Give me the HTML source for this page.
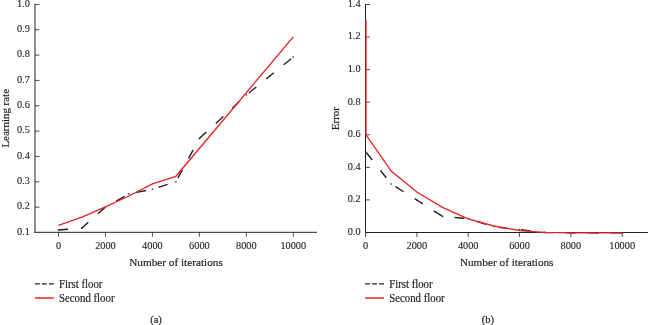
<!DOCTYPE html>
<html><head><meta charset="utf-8"><style>
html,body{margin:0;padding:0;background:#fff;}
svg{display:block;}
text{font-family:"Liberation Serif","Times New Roman",serif;fill:#231f20;stroke:#231f20;stroke-width:0.2px;}
.tk{stroke-width:0.12px;}
</style></head><body>
<svg width="649" height="325" viewBox="0 0 649 325">
<rect width="649" height="325" fill="#fff"/>
<line x1="35.00" y1="3.90" x2="35.00" y2="232.80" stroke="#231f20" stroke-width="1.0" />
<line x1="34.50" y1="232.30" x2="317.00" y2="232.30" stroke="#231f20" stroke-width="1.0" />
<text x="29.80" y="235.00" font-size="10.3" text-anchor="end"  class="tk">0.1</text>
<line x1="35.00" y1="207.16" x2="39.50" y2="207.16" stroke="#231f20" stroke-width="0.8" />
<text x="29.80" y="209.00" font-size="10.3" text-anchor="end"  class="tk">0.2</text>
<line x1="35.00" y1="181.81" x2="39.50" y2="181.81" stroke="#231f20" stroke-width="0.8" />
<text x="29.80" y="184.00" font-size="10.3" text-anchor="end"  class="tk">0.3</text>
<line x1="35.00" y1="156.47" x2="39.50" y2="156.47" stroke="#231f20" stroke-width="0.8" />
<text x="29.80" y="159.00" font-size="10.3" text-anchor="end"  class="tk">0.4</text>
<line x1="35.00" y1="131.12" x2="39.50" y2="131.12" stroke="#231f20" stroke-width="0.8" />
<text x="29.80" y="133.00" font-size="10.3" text-anchor="end"  class="tk">0.5</text>
<line x1="35.00" y1="105.78" x2="39.50" y2="105.78" stroke="#231f20" stroke-width="0.8" />
<text x="29.80" y="108.00" font-size="10.3" text-anchor="end"  class="tk">0.6</text>
<line x1="35.00" y1="80.43" x2="39.50" y2="80.43" stroke="#231f20" stroke-width="0.8" />
<text x="29.80" y="83.00" font-size="10.3" text-anchor="end"  class="tk">0.7</text>
<line x1="35.00" y1="55.09" x2="39.50" y2="55.09" stroke="#231f20" stroke-width="0.8" />
<text x="29.80" y="57.00" font-size="10.3" text-anchor="end"  class="tk">0.8</text>
<line x1="35.00" y1="29.74" x2="39.50" y2="29.74" stroke="#231f20" stroke-width="0.8" />
<text x="29.80" y="32.00" font-size="10.3" text-anchor="end"  class="tk">0.9</text>
<line x1="35.00" y1="4.40" x2="39.50" y2="4.40" stroke="#231f20" stroke-width="0.8" />
<text x="29.80" y="7.00" font-size="10.3" text-anchor="end"  class="tk">1.0</text>
<line x1="58.50" y1="232.30" x2="58.50" y2="236.80" stroke="#231f20" stroke-width="0.8" />
<text x="58.50" y="249.00" font-size="10.3" text-anchor="middle"  class="tk">0</text>
<line x1="105.46" y1="232.30" x2="105.46" y2="236.80" stroke="#231f20" stroke-width="0.8" />
<text x="105.46" y="249.00" font-size="10.3" text-anchor="middle"  class="tk">2000</text>
<line x1="152.42" y1="232.30" x2="152.42" y2="236.80" stroke="#231f20" stroke-width="0.8" />
<text x="152.42" y="249.00" font-size="10.3" text-anchor="middle"  class="tk">4000</text>
<line x1="199.38" y1="232.30" x2="199.38" y2="236.80" stroke="#231f20" stroke-width="0.8" />
<text x="199.38" y="249.00" font-size="10.3" text-anchor="middle"  class="tk">6000</text>
<line x1="246.34" y1="232.30" x2="246.34" y2="236.80" stroke="#231f20" stroke-width="0.8" />
<text x="246.34" y="249.00" font-size="10.3" text-anchor="middle"  class="tk">8000</text>
<line x1="293.30" y1="232.30" x2="293.30" y2="236.80" stroke="#231f20" stroke-width="0.8" />
<text x="293.30" y="249.00" font-size="10.3" text-anchor="middle"  class="tk">10000</text>
<text x="176.00" y="265.50" font-size="11.4" text-anchor="middle"  textLength="93.6" lengthAdjust="spacingAndGlyphs">Number of iterations</text>
<text x="0.00" y="0.00" font-size="11" text-anchor="middle" transform="translate(8.5,118.3) rotate(-90)" textLength="58.6" lengthAdjust="spacingAndGlyphs">Learning rate</text>
<line x1="365.50" y1="4.00" x2="365.50" y2="233.00" stroke="#231f20" stroke-width="1.0" />
<line x1="365.00" y1="232.50" x2="647.90" y2="232.50" stroke="#231f20" stroke-width="1.0" />
<text x="360.60" y="235.00" font-size="10.3" text-anchor="end"  class="tk">0.0</text>
<line x1="365.50" y1="199.93" x2="370.00" y2="199.93" stroke="#231f20" stroke-width="0.8" />
<text x="360.60" y="202.00" font-size="10.3" text-anchor="end"  class="tk">0.2</text>
<line x1="365.50" y1="167.36" x2="370.00" y2="167.36" stroke="#231f20" stroke-width="0.8" />
<text x="360.60" y="170.00" font-size="10.3" text-anchor="end"  class="tk">0.4</text>
<line x1="365.50" y1="134.79" x2="370.00" y2="134.79" stroke="#231f20" stroke-width="0.8" />
<text x="360.60" y="137.00" font-size="10.3" text-anchor="end"  class="tk">0.6</text>
<line x1="365.50" y1="102.21" x2="370.00" y2="102.21" stroke="#231f20" stroke-width="0.8" />
<text x="360.60" y="105.00" font-size="10.3" text-anchor="end"  class="tk">0.8</text>
<line x1="365.50" y1="69.64" x2="370.00" y2="69.64" stroke="#231f20" stroke-width="0.8" />
<text x="360.60" y="72.00" font-size="10.3" text-anchor="end"  class="tk">1.0</text>
<line x1="365.50" y1="37.07" x2="370.00" y2="37.07" stroke="#231f20" stroke-width="0.8" />
<text x="360.60" y="39.00" font-size="10.3" text-anchor="end"  class="tk">1.2</text>
<line x1="365.50" y1="4.50" x2="370.00" y2="4.50" stroke="#231f20" stroke-width="0.8" />
<text x="360.60" y="7.00" font-size="10.3" text-anchor="end"  class="tk">1.4</text>
<line x1="365.50" y1="232.50" x2="365.50" y2="237.00" stroke="#231f20" stroke-width="0.8" />
<text x="365.50" y="249.00" font-size="10.3" text-anchor="middle"  class="tk">0</text>
<line x1="416.84" y1="232.50" x2="416.84" y2="237.00" stroke="#231f20" stroke-width="0.8" />
<text x="416.84" y="249.00" font-size="10.3" text-anchor="middle"  class="tk">2000</text>
<line x1="468.18" y1="232.50" x2="468.18" y2="237.00" stroke="#231f20" stroke-width="0.8" />
<text x="468.18" y="249.00" font-size="10.3" text-anchor="middle"  class="tk">4000</text>
<line x1="519.52" y1="232.50" x2="519.52" y2="237.00" stroke="#231f20" stroke-width="0.8" />
<text x="519.52" y="249.00" font-size="10.3" text-anchor="middle"  class="tk">6000</text>
<line x1="570.86" y1="232.50" x2="570.86" y2="237.00" stroke="#231f20" stroke-width="0.8" />
<text x="570.86" y="249.00" font-size="10.3" text-anchor="middle"  class="tk">8000</text>
<line x1="622.20" y1="232.50" x2="622.20" y2="237.00" stroke="#231f20" stroke-width="0.8" />
<text x="622.20" y="249.00" font-size="10.3" text-anchor="middle"  class="tk">10000</text>
<text x="506.70" y="265.50" font-size="11.4" text-anchor="middle"  textLength="93.6" lengthAdjust="spacingAndGlyphs">Number of iterations</text>
<text x="0.00" y="0.00" font-size="11" text-anchor="middle" transform="translate(339.3,118.6) rotate(-90)" textLength="23.2" lengthAdjust="spacingAndGlyphs">Error</text>
<polyline points="58.50,230.00 81.98,228.00 105.46,207.00 128.94,193.90 152.42,189.30 175.90,181.70 199.38,138.50 222.86,117.00 246.34,95.00 269.82,76.00 293.30,57.00" fill="none" stroke="#231f20" stroke-width="1.4" stroke-linejoin="miter" stroke-dasharray="9.6 12.85"/>
<circle cx="58.50" cy="230.00" r="0.8" fill="#231f20"/>
<circle cx="81.98" cy="228.00" r="0.8" fill="#231f20"/>
<circle cx="105.46" cy="207.00" r="0.8" fill="#231f20"/>
<circle cx="128.94" cy="193.90" r="0.8" fill="#231f20"/>
<circle cx="152.42" cy="189.30" r="0.8" fill="#231f20"/>
<circle cx="175.90" cy="181.70" r="0.8" fill="#231f20"/>
<circle cx="199.38" cy="138.50" r="0.8" fill="#231f20"/>
<circle cx="222.86" cy="117.00" r="0.8" fill="#231f20"/>
<circle cx="246.34" cy="95.00" r="0.8" fill="#231f20"/>
<circle cx="269.82" cy="76.00" r="0.8" fill="#231f20"/>
<circle cx="293.30" cy="57.00" r="0.8" fill="#231f20"/>
<polyline points="58.50,225.30 81.98,217.10 105.46,206.90 128.94,196.00 152.42,183.80 175.90,176.30 293.30,36.90" fill="none" stroke="#e52421" stroke-width="1.35" stroke-linejoin="miter" />
<polyline points="365.50,151.50 391.17,184.00 416.84,200.00 442.51,216.40 468.18,218.60 493.85,226.80 519.52,229.60 545.19,232.50 570.86,232.80 596.53,232.90 622.20,232.90" fill="none" stroke="#231f20" stroke-width="1.4" stroke-linejoin="miter" stroke-dasharray="9.6 13.0" stroke-dashoffset="-1.3"/>
<circle cx="365.50" cy="151.50" r="0.8" fill="#231f20"/>
<circle cx="391.17" cy="184.00" r="0.8" fill="#231f20"/>
<circle cx="416.84" cy="200.00" r="0.8" fill="#231f20"/>
<circle cx="442.51" cy="216.40" r="0.8" fill="#231f20"/>
<circle cx="468.18" cy="218.60" r="0.8" fill="#231f20"/>
<circle cx="493.85" cy="226.80" r="0.8" fill="#231f20"/>
<circle cx="519.52" cy="229.60" r="0.8" fill="#231f20"/>
<circle cx="545.19" cy="232.50" r="0.8" fill="#231f20"/>
<circle cx="570.86" cy="232.80" r="0.8" fill="#231f20"/>
<circle cx="596.53" cy="232.90" r="0.8" fill="#231f20"/>
<circle cx="622.20" cy="232.90" r="0.8" fill="#231f20"/>
<polyline points="366.00,19.70 366.00,134.79 391.17,171.10 416.84,192.00 442.51,207.30 468.18,218.90 493.85,226.00 519.52,230.60 545.19,232.40 570.86,232.80 596.53,232.90 622.20,232.90" fill="none" stroke="#e52421" stroke-width="1.35" stroke-linejoin="miter" />
<line x1="34.90" y1="283.90" x2="53.70" y2="283.90" stroke="#231f20" stroke-width="1.3" stroke-dasharray="4.8 2.2"/>
<line x1="34.90" y1="298.00" x2="53.80" y2="298.00" stroke="#e52421" stroke-width="1.5" />
<text x="59.00" y="287.60" font-size="11.6" text-anchor="start"  textLength="43.4" lengthAdjust="spacingAndGlyphs">First floor</text>
<text x="59.00" y="301.60" font-size="11.6" text-anchor="start"  textLength="55.5" lengthAdjust="spacingAndGlyphs">Second floor</text>
<line x1="365.10" y1="283.90" x2="383.90" y2="283.90" stroke="#231f20" stroke-width="1.3" stroke-dasharray="4.8 2.2"/>
<line x1="365.10" y1="298.00" x2="384.00" y2="298.00" stroke="#e52421" stroke-width="1.5" />
<text x="389.20" y="287.60" font-size="11.6" text-anchor="start"  textLength="43.4" lengthAdjust="spacingAndGlyphs">First floor</text>
<text x="389.20" y="301.60" font-size="11.6" text-anchor="start"  textLength="55.5" lengthAdjust="spacingAndGlyphs">Second floor</text>
<text x="156.00" y="322.60" font-size="10.5" text-anchor="middle" >(a)</text>
<text x="487.90" y="322.60" font-size="10.5" text-anchor="middle" >(b)</text>
</svg>
</body></html>
